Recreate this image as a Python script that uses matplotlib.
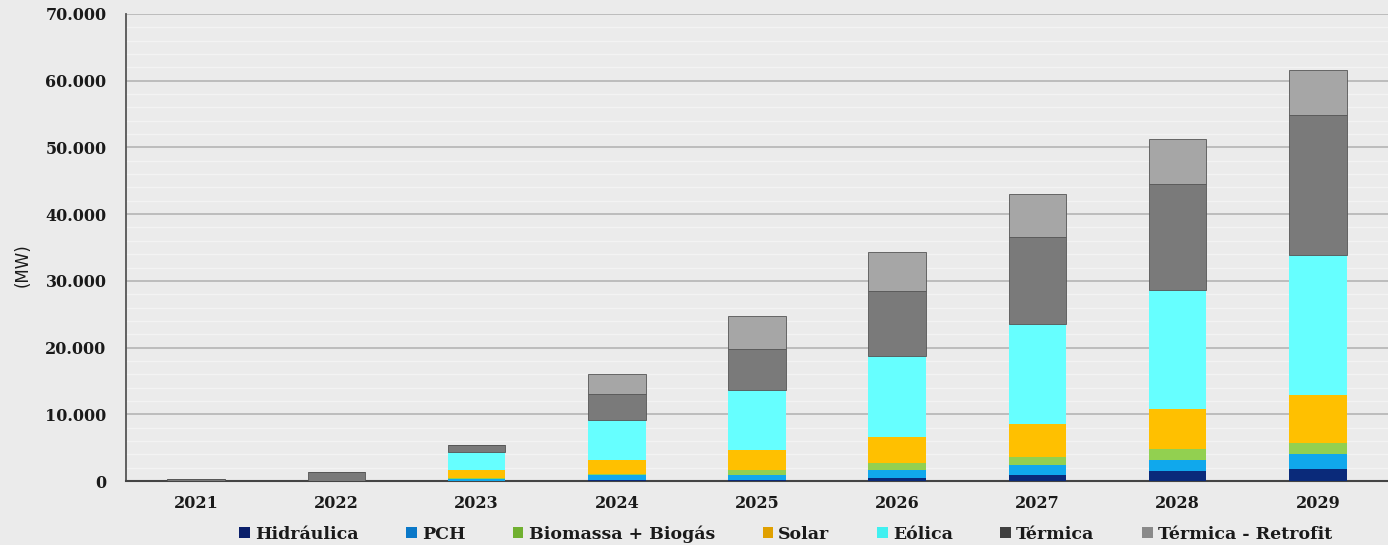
import numpy as np
import matplotlib
matplotlib.use('Agg')
from matplotlib import pyplot as plt
from matplotlib.ticker import FuncFormatter, MultipleLocator

# Data (MW)
anos = ['2021', '2022', '2023', '2024', '2025', '2026', '2027', '2028', '2029']
hidraulica = [0, 0, 50, 100, 150, 500, 850, 1500, 1850]
pch = [0, 0, 300, 750, 750, 1150, 1500, 1650, 2200]
biomassa = [0, 0, 150, 250, 750, 1100, 1300, 1600, 1600]
solar = [0, 0, 1100, 2000, 3000, 3900, 4900, 6000, 7200]
eolica = [0, 0, 2750, 6050, 9000, 12100, 15000, 17900, 21050]
termica = [300, 1350, 1100, 3900, 6150, 9750, 12950, 15850, 20950]
retrofit = [0, 0, 0, 3000, 4950, 5850, 6550, 6750, 6700]

series = [hidraulica, pch, biomassa, solar, eolica, termica, retrofit]
nomes = ['Hidráulica', 'PCH', 'Biomassa + Biogás', 'Solar', 'Eólica',
         'Térmica', 'Térmica - Retrofit']
cores = ['#0a2a7a', '#10a8ec', '#92d050', '#ffc000', '#66ffff', '#7a7a7a', '#a6a6a6']
cores_leg = ['#0a1f6a', '#0a78c8', '#70b030', '#e0a000', '#40f0f0', '#404040', '#8a8a8a']

fig = plt.figure(figsize=(13.88, 5.45), dpi=100)
fig.patch.set_facecolor('#ebebeb')
ax = fig.add_axes([126/1388, 1 - 481/545, 1 - 126/1388, (481 - 14)/545])
ax.set_facecolor('#ebebeb')

x = np.arange(len(anos))
base = np.zeros(len(anos))
for i, (vals, cor) in enumerate(zip(series, cores)):
    # gray bars have a darker outline in the original
    ec = '#555555' if i >= 5 else 'none'
    ax.bar(x, vals, 0.41, bottom=base, color=cor, edgecolor=ec, linewidth=0.6, zorder=3)
    base += np.array(vals)

# Legend handles
for nome, cor in zip(nomes, cores_leg):
    ax.bar([0], [0], color=cor, label=nome)

ax.set_xlim(-0.5, 8.5)
ax.set_ylim(0, 70000)
ax.yaxis.set_major_locator(MultipleLocator(10000))
ax.yaxis.set_minor_locator(MultipleLocator(2000))
ax.yaxis.set_major_formatter(FuncFormatter(lambda v, p: f'{int(v):,}'.replace(',', '.')))
ax.grid(axis='y', which='major', color='#b4b4b4', linewidth=1.2, zorder=1)
ax.grid(axis='y', which='minor', color='#f3f3f3', linewidth=1.0, zorder=1)
ax.tick_params(axis='y', which='both', length=0, pad=14, labelsize=11.5, colors='#1a1a1a')
ax.tick_params(axis='x', length=0, pad=10, labelsize=11.5, colors='#1a1a1a')
ax.set_xticks(x)
ax.set_xticklabels(anos)
for lab in ax.get_xticklabels() + ax.get_yticklabels():
    lab.set_fontfamily('DejaVu Serif')
    lab.set_fontweight('bold')

for s in ['top', 'right']:
    ax.spines[s].set_visible(False)
ax.spines['left'].set_color('#555555')
ax.spines['left'].set_linewidth(1.3)
ax.spines['bottom'].set_color('#444444')
ax.spines['bottom'].set_linewidth(1.5)

fig.text(0.016, 1 - 265/545, '(MW)', rotation=90, va='center', ha='center',
         fontsize=12, color='#1a1a1a')

handles, labels = ax.get_legend_handles_labels()
leg = fig.legend(handles, labels, ncol=7, loc='center', bbox_to_anchor=(0.566, 1 - 534/545),
                 frameon=False, handlelength=0.6, handleheight=0.6, handletextpad=0.3,
                 columnspacing=2.75, prop={'family': 'DejaVu Serif', 'weight': 'bold', 'size': 12.5})
for t in leg.get_texts():
    t.set_color('#1a1a1a')

fig.savefig('out.png', dpi=100, facecolor=fig.get_facecolor())
